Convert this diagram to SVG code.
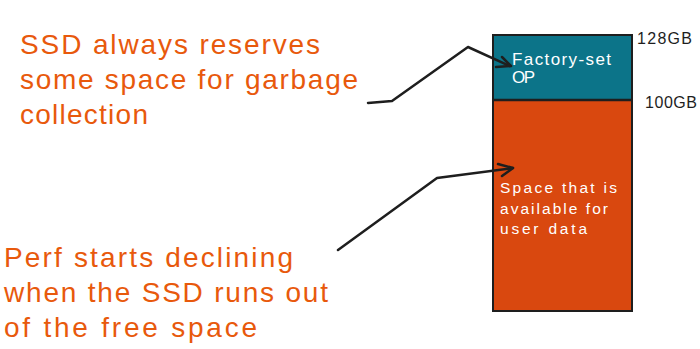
<svg xmlns="http://www.w3.org/2000/svg" width="700" height="349" viewBox="0 0 700 349">
<style>
.note{font-family:"Liberation Sans","DejaVu Sans",sans-serif;font-size:28px;fill:#e8590c}
.inner{font-family:"Liberation Sans","DejaVu Sans",sans-serif;fill:#ffffff}
.lbl{font-family:"Liberation Sans","DejaVu Sans",sans-serif;font-size:16px;fill:#1e1e1e}
.conn{fill:none;stroke:#1e1e1e;stroke-width:2.5;stroke-linecap:round;stroke-linejoin:round}
</style>
<rect width="700" height="349" fill="#ffffff"/>
<g id="ssd">
<rect x="493" y="35" width="139" height="65" fill="#0c7489" stroke="#1e1e1e" stroke-width="2"/>
<rect x="493" y="100" width="139" height="211" fill="#d9480f" stroke="#1e1e1e" stroke-width="2"/>
<line x1="493" y1="100" x2="632" y2="100" stroke="#1e1e1e" stroke-width="2.5"/>
</g>
<g id="op-label">
<text class="inner" font-size="17" x="512" y="65" textLength="99">Factory-set</text>
<text class="inner" font-size="17" x="512" y="83" textLength="23">OP</text>
</g>
<g id="user-label">
<text class="inner" font-size="15.5" x="500" y="193" textLength="117">Space that is</text>
<text class="inner" font-size="15.5" x="500" y="214" textLength="108">available for</text>
<text class="inner" font-size="15.5" x="500" y="234" textLength="87">user data</text>
</g>
<g id="cap128"><text class="lbl" x="637" y="44" textLength="55">128GB</text></g>
<g id="cap100"><text class="lbl" x="645" y="108" textLength="52">100GB</text></g>
<g id="note-top">
<text class="note" x="20" y="54" textLength="300">SSD always reserves</text>
<text class="note" x="20" y="89" textLength="338">some space for garbage</text>
<text class="note" x="20" y="124" textLength="128">collection</text>
</g>
<g id="note-bottom">
<text class="note" x="4" y="267" textLength="289">Perf starts declining</text>
<text class="note" x="4" y="302" textLength="324">when the SSD runs out</text>
<text class="note" x="4" y="337" textLength="253">of the free space</text>
</g>
<g id="connectors">
<path class="conn" d="M368 103 L392 101 L468 47 L510 66"/>
<path class="conn" d="M502 57 L511 66 L496 67"/>
<path class="conn" d="M338 250 L437 178 L513 168"/>
<path class="conn" d="M498 164 L513 168 L502 176"/>
</g>
</svg>
